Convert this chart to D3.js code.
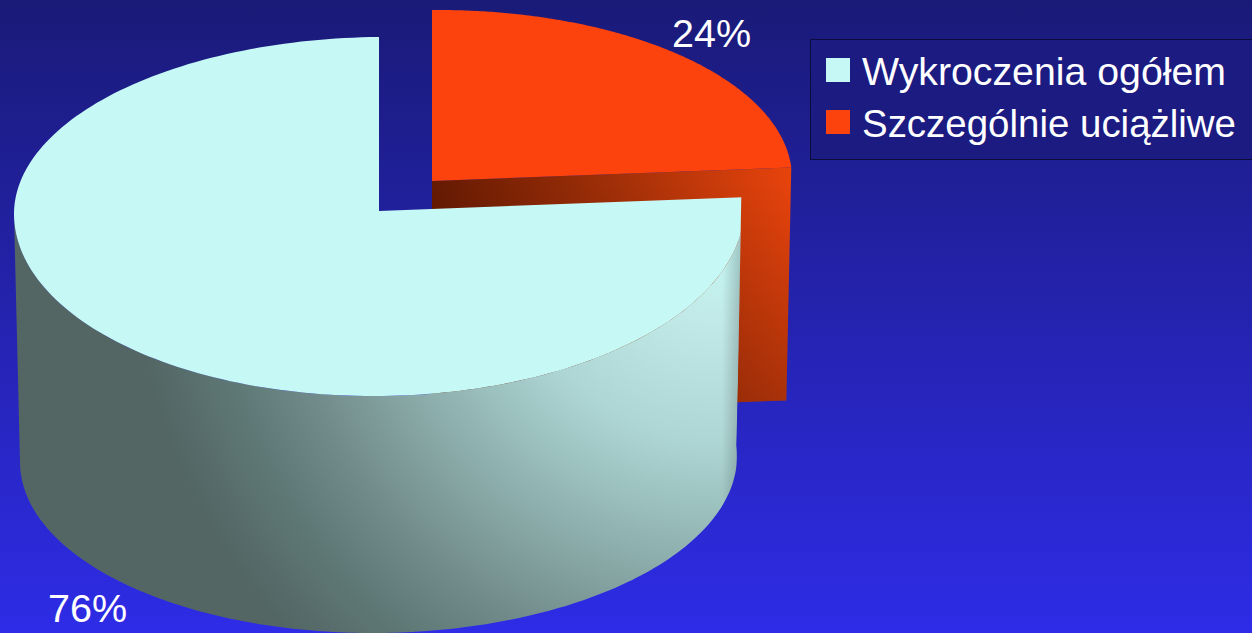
<!DOCTYPE html>
<html>
<head>
<meta charset="utf-8">
<script src="https://cdn.jsdelivr.net/npm/d3@7/dist/d3.min.js"></script>
<style>html,body{margin:0;padding:0;overflow:hidden;background:#1a1a78}svg{display:block}text{font-family:"Liberation Sans",Arial,sans-serif;fill:#fff}</style>
</head>
<body>
<script>
const categories = ["Wykroczenia ogółem", "Szczególnie uciążliwe"];
const values = [76, 24];
const labels = ["76%", "24%"];
const colors = ["#c6f9f6", "#fc430e"];

const W = 1252, H = 633, FS = 39.5;
const svg = d3.select("body").append("svg").attr("width", W).attr("height", H);
const defs = svg.append("defs");

function addStops(g, stops) {
  stops.forEach(s => g.append("stop").attr("offset", s[0]).attr("stop-color", s[1]).attr("stop-opacity", s[2] === undefined ? 1 : s[2]));
}
function grad(id, x1, y1, x2, y2, stops) {
  const g = defs.append("linearGradient").attr("id", id).attr("gradientUnits", "userSpaceOnUse")
    .attr("x1", x1).attr("y1", y1).attr("x2", x2).attr("y2", y2);
  addStops(g, stops);
  return `url(#${id})`;
}
const bg = grad("bg", 0, 0, 0, H, [[0, "#1a1a78"], [1, "#2e2ce6"]]);
const radial = defs.append("radialGradient").attr("id", "mainSide").attr("gradientUnits", "userSpaceOnUse")
  .attr("cx", 720).attr("cy", 230).attr("r", 620);
addStops(radial, [[0, "#c6f9f6"], [0.16, "#c0e8e6"], [0.34, "#aed6d4"], [0.44, "#9dc3c1"], [0.7, "#728c8b"], [0.82, "#5e7876"], [0.95, "#536664"], [1, "#536664"]]);
const mainSide = "url(#mainSide)";
const mainEdge = grad("mainEdge", 722, 0, 739, 0, [[0, "#000", 0], [1, "#000", 0.18]]);
const redFace = grad("redFace", 432, 0, 792, 0, [[0, "#651a02"], [0.5, "#a02f08"], [1, "#e8430c"]]);
const redShade = grad("redShade", 0, 180, 0, 405, [[0, "#000", 0], [1, "#000", 0.27]]);

svg.append("rect").attr("width", W).attr("height", H).attr("fill", bg);

// pie layout: the small slice starts at 12 o'clock, the large one follows it
const TAU = 2 * Math.PI;
const share = values[1] / d3.sum(values);
const arcs = d3.pie().sort(null).startAngle(share * TAU).endAngle(TAU + share * TAU)(values);

const TILT = 0.008;
function projector(g) {
  const x = d3.scaleLinear().domain([-1, 1]).range([g.cx - g.rx, g.cx + g.rx]);
  const yUp = d3.scaleLinear().domain([0, 1]).range([g.cy, g.cy - g.ryUp]);
  const yDown = d3.scaleLinear().domain([0, 1]).range([g.cy, g.cy + g.ryDown]);
  return a => {
    const s = Math.sin(a), c = Math.cos(a);
    const y = c >= 0 ? yUp(c) : yDown(-c);
    return [x(s), y - TILT * g.rx * s];
  };
}
const line = d3.line();
const sweep = (from, to) => d3.range(0, 201).map(i => from + (to - from) * i / 200);

// geometry
const mainTop = { cx: 379, cy: 211, rx: 365, ryUp: 174, ryDown: 185 };
const mainBot = { cx: 378.5, cy: 459, rx: 358.5, ryUp: 173, ryDown: 174 };
const redTop = { cx: 432, cy: 181, rx: 360, ryUp: 171, ryDown: 171 };
const redBot = { cx: 432, cy: 414, rx: 355, ryUp: 171, ryDown: 171 };
const pMT = projector(mainTop), pMB = projector(mainBot);
const pRT = projector(redTop), pRB = projector(redBot);

const main = arcs[0], red = arcs[1];
const redA0 = red.startAngle, redA1 = red.endAngle;
const mainA0 = main.startAngle, mainA1 = main.endAngle;

// straight right-hand edge of the large slice
const eT = pMT(mainA0), eB = pMB(mainA0);
defs.append("clipPath").attr("id", "mainClip").append("path")
  .attr("d", line([[0, 0], [eT[0] - 2, 0], [eT[0] - 2, eT[1]], [eB[0] + 0.5, eB[1]], [eB[0] + 0.5, H], [0, H]]) + "Z");

// red cut face (behind)
const redFacePts = [[redTop.cx, redTop.cy], pRT(redA1), pRB(redA1), [redBot.cx, redBot.cy]];
svg.append("path").attr("d", line(redFacePts) + "Z").attr("fill", redFace);
svg.append("path").attr("d", line(redFacePts) + "Z").attr("fill", redShade);
// red top
svg.append("path")
  .attr("d", line([[redTop.cx, redTop.cy], ...sweep(redA0, redA1).map(a => pRT(a - TAU))]) + "Z")
  .attr("fill", colors[1]);

const mainG = svg.append("g").attr("clip-path", "url(#mainClip)");
// main outer wall, from the cut round the front to the left extreme
const wallTo = 1.5 * Math.PI;
const wall = line([...sweep(mainA0, wallTo).map(pMT), ...sweep(wallTo, mainA0).map(pMB)]) + "Z";
mainG.append("path").attr("d", wall).attr("fill", mainSide);
mainG.append("path").attr("d", wall).attr("fill", mainEdge);
// main top
mainG.append("path")
  .attr("d", line([[mainTop.cx, mainTop.cy], ...sweep(mainA0, mainA1).map(pMT)]) + "Z")
  .attr("fill", colors[0]);

// data labels
svg.append("text").attr("x", 48).attr("y", 622).attr("font-size", FS).text(labels[0]);
svg.append("text").attr("x", 672).attr("y", 47).attr("font-size", FS).text(labels[1]);

// legend
svg.append("rect").attr("x", 810.5).attr("y", 39.5).attr("width", 460).attr("height", 120)
  .attr("fill", "#1b1b82").attr("stroke", "#0b0b3c").attr("stroke-width", 1);
const rowY = d3.scalePoint().domain(categories).range([70, 122]);
const rows = svg.selectAll("g.row").data(categories).enter().append("g").attr("class", "row");
rows.append("rect").attr("x", 826).attr("y", d => rowY(d) - 12).attr("width", 24).attr("height", 24)
  .attr("fill", (d, i) => colors[i]);
const legendWidths = [364, 374];
rows.append("text").attr("x", 862).attr("y", d => rowY(d) + 15).attr("font-size", FS)
  .attr("textLength", (d, i) => legendWidths[i]).attr("lengthAdjust", "spacingAndGlyphs").text(d => d);
</script>
</body>
</html>
